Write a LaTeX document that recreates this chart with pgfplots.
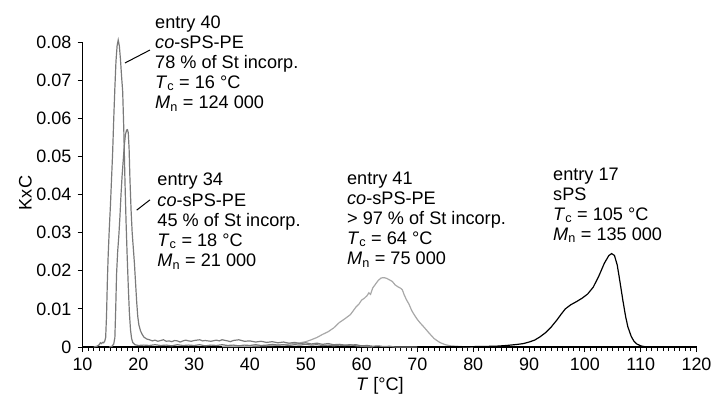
\documentclass[border=0pt]{standalone}
\usepackage{pgfplots}
\pgfplotsset{compat=1.18}
\usepackage{fontspec}
\setmainfont{Liberation Sans}
\definecolor{gA}{HTML}{7A7A7A}
\definecolor{gB}{HTML}{A8A8A8}
\begin{document}
\begin{tikzpicture}
\fontsize{18.2}{20.2}\selectfont
\begin{axis}[name=ax, scale only axis, width=614bp, height=305bp,
 xmin=10, xmax=120, ymin=0, ymax=0.08,
 axis x line=bottom, axis y line=left,
 axis line style={-, line width=1.1pt},
 xtick={10,20,30,40,50,60,70,80,90,100,110,120}, minor x tick num=9,
 ytick={0,0.01,0.02,0.03,0.04,0.05,0.06,0.07,0.08},
 yticklabels={0,0.01,0.02,0.03,0.04,0.05,0.06,0.07,0.08},
 scaled y ticks=false, tick align=outside,
 major tick length=5bp, minor tick length=3.5bp,
 tick style={black, line width=0.9pt},
 /pgf/number format/assume math mode=true,
 ticklabel style={font=\fontsize{18}{20}\selectfont},
 label style={font=\fontsize{18.2}{20.2}\selectfont},
 xlabel={\textit{T} [°C]}, ylabel={KxC},
 xlabel style={at={(axis description cs:0.4845,0)}, anchor=base, yshift=-43bp},
 ylabel style={at={(axis description cs:-0.0827,0.505)}, anchor=base},
 clip=false,
]
% entry 41 (light gray)
\addplot[gB, line width=1.2pt] coordinates {
(35,0.0001) (40,0.0002) (44,0.0004) (46,0.0006) (48,0.0009) (49,0.0011) (50,0.0014)
(51,0.0019) (52,0.0025) (53,0.0033) (54,0.0040) (55,0.0050) (56,0.0064) (57,0.0074)
(58,0.0085) (58.5,0.0095) (59,0.0105) (59.5,0.0112) (60,0.0123) (60.5,0.0128) (61,0.0135)
(61.3,0.0142) (61.6,0.0138) (62,0.0155) (62.5,0.0165) (63,0.0175) (63.5,0.0181) (64,0.0182)
(64.5,0.0180) (65,0.0176) (65.5,0.0172) (66,0.0163) (66.5,0.0158) (67,0.0154) (67.3,0.0150)
(67.6,0.0138) (68,0.0125) (68.5,0.0112) (69,0.0095) (69.5,0.0083) (70,0.0072) (70.5,0.0063)
(71,0.0055) (71.6,0.0045) (72,0.0038) (73,0.0022) (74,0.0012) (75,0.0006) (76,0.0003)
(78,0.0001) (80,0)
};
% entry 40 (gray)
\addplot[gA, line width=1.2pt] coordinates {
(12.0,0) (12.6,0.0002) (13.0,0.0006) (13.2,0.0011) (13.4,0.0009) (13.6,0.0012) (13.8,0.0011)
(14.0,0.0016) (14.15,0.0025) (14.3,0.008) (14.45,0.017) (14.6,0.024) (14.8,0.031) (15.0,0.037)
(15.2,0.044) (15.4,0.051) (15.6,0.060) (15.8,0.068) (16.0,0.075) (16.2,0.079) (16.4,0.0805)
(16.6,0.079) (16.8,0.0755) (17.0,0.071) (17.2,0.067) (17.4,0.057) (17.6,0.044) (17.8,0.033)
(18.0,0.024) (18.2,0.016) (18.4,0.009) (18.6,0.0045) (18.8,0.0022) (19.0,0.0012) (19.4,0.0006)
(20,0.0004) (21,0.0005) (22,0.0004) (23,0.0006) (24,0.0004) (25,0.0005) (26,0.0003) (27,0.0006)
(28,0.0004) (29,0.0005) (30,0.0004) (31,0.0006) (32,0.0003) (33,0.0005) (34,0.0004) (35,0.0006)
(36,0.0004) (37,0.0005) (38,0.0003) (39,0.0005) (40,0.0004) (41,0.0006) (42,0.0004) (43,0.0005)
(44,0.0007) (45,0.0005) (46,0.0006) (47,0.0004) (48,0.0006) (49,0.0005) (50,0.0007) (51,0.0005)
(52,0.0006) (53,0.0004) (54,0.0005) (55,0.0003) (56,0.0005) (57,0.0004) (58,0.0005) (59,0.0006)
(60,0.0003) (61,0.0004) (62,0.0002) (63,0.0003) (64,0.0001) (65,0.0002) (66,0) (70,0)
};
% entry 34 (gray)
\addplot[gA, line width=1.2pt] coordinates {
(14.8,0) (15.3,0.0002) (15.6,0.0008) (15.8,0.0025) (15.95,0.010) (16.1,0.019) (16.3,0.025)
(16.5,0.029) (16.7,0.034) (16.9,0.040) (17.1,0.045) (17.3,0.049) (17.5,0.053) (17.7,0.0558)
(17.9,0.0569) (18.05,0.0570) (18.2,0.0562) (18.35,0.052) (18.5,0.044) (18.7,0.036) (18.9,0.030)
(19.1,0.026) (19.3,0.022) (19.5,0.017) (19.7,0.012) (19.9,0.008) (20.1,0.0058) (20.4,0.0042)
(20.7,0.0033) (21.0,0.0026) (21.5,0.0021) (22,0.0019) (22.5,0.0016) (23,0.0018) (23.5,0.0015)
(24,0.0017) (24.5,0.0019) (25,0.0015) (25.5,0.0016) (26,0.0014) (26.5,0.0017) (27,0.0016)
(27.5,0.0013) (28,0.0016) (28.5,0.0018) (29,0.0016) (29.5,0.0015) (30,0.0017) (31,0.0019)
(31.5,0.0016) (32,0.0017) (33,0.0015) (34,0.0018) (34.5,0.0016) (35,0.0019) (36,0.0016)
(36.5,0.0014) (37,0.0017) (38,0.0019) (38.5,0.0017) (39,0.0015) (40,0.0016) (41,0.0013)
(42,0.0015) (43,0.0012) (44,0.0014) (45,0.0011) (46,0.0013) (47,0.0010) (48,0.0012)
(49,0.0009) (50,0.0011) (51,0.0008) (52,0.0010) (53,0.0007) (54,0.0009) (55,0.0006)
(56,0.0007) (57,0.0005) (58,0.0006) (59,0.0003) (60,0.0002) (61,0.0001) (62,0)
};
% entry 17 (black)
\addplot[black, line width=1.2pt] coordinates {
(70,0) (80,0.0001) (84,0.0002) (86,0.0004) (88,0.0007) (89,0.0009) (90,0.0013) (91,0.0018)
(92,0.0027) (93,0.0038) (94,0.0053) (95,0.0071) (95.8,0.0087) (96.5,0.0100) (97.5,0.0111)
(98.5,0.0119) (99.5,0.0128) (100.5,0.0139) (101.5,0.0157) (102.5,0.0186) (103.5,0.0220)
(104.3,0.0240) (104.8,0.0245) (105.3,0.0240) (105.8,0.0215) (106.3,0.0170) (106.8,0.0123)
(107.3,0.0080) (107.7,0.0053) (108.3,0.0028) (108.8,0.0015) (109.3,0.0008) (110,0.0003)
(111,0) (112,0)
};
% leader lines
\draw[black, line width=1pt] (axis cs:17.61,0.0745) -- (axis cs:22.09,0.0779);
\draw[black, line width=1pt] (axis cs:19.71,0.0359) -- (axis cs:22.09,0.0386);
% annotations
\node[anchor=base west, inner sep=0] at (axis cs:22.99,0.08367) {\begin{tabular}[t]{@{}l@{}}entry 40\\\textit{co}-sPS-PE\\78 \% of St incorp.\\\textit{T}\textsubscript{c} = 16 °C\\\textit{M}\textsubscript{n} = 124 000\end{tabular}};
\node[anchor=base west, inner sep=0] at (axis cs:23.40,0.04223) {\begin{tabular}[t]{@{}l@{}}entry 34\\\textit{co}-sPS-PE\\45 \% of St incorp.\\\textit{T}\textsubscript{c} = 18 °C\\\textit{M}\textsubscript{n} = 21 000\end{tabular}};
\node[anchor=base west, inner sep=0] at (axis cs:57.38,0.04275) {\begin{tabular}[t]{@{}l@{}}entry 41\\\textit{co}-sPS-PE\\> 97 \% of St incorp.\\\textit{T}\textsubscript{c} = 64 °C\\\textit{M}\textsubscript{n} = 75 000\end{tabular}};
\node[anchor=base west, inner sep=0] at (axis cs:94.29,0.0438) {\begin{tabular}[t]{@{}l@{}}entry 17\\sPS\\\textit{T}\textsubscript{c} = 105 °C\\\textit{M}\textsubscript{n} = 135 000\end{tabular}};
\end{axis}
\pgfresetboundingbox
\path[use as bounding box] ([shift={(-82.5bp,-51bp)}]ax.south west) rectangle ([shift={(15.5bp,42bp)}]ax.north east);
\end{tikzpicture}
\end{document}
